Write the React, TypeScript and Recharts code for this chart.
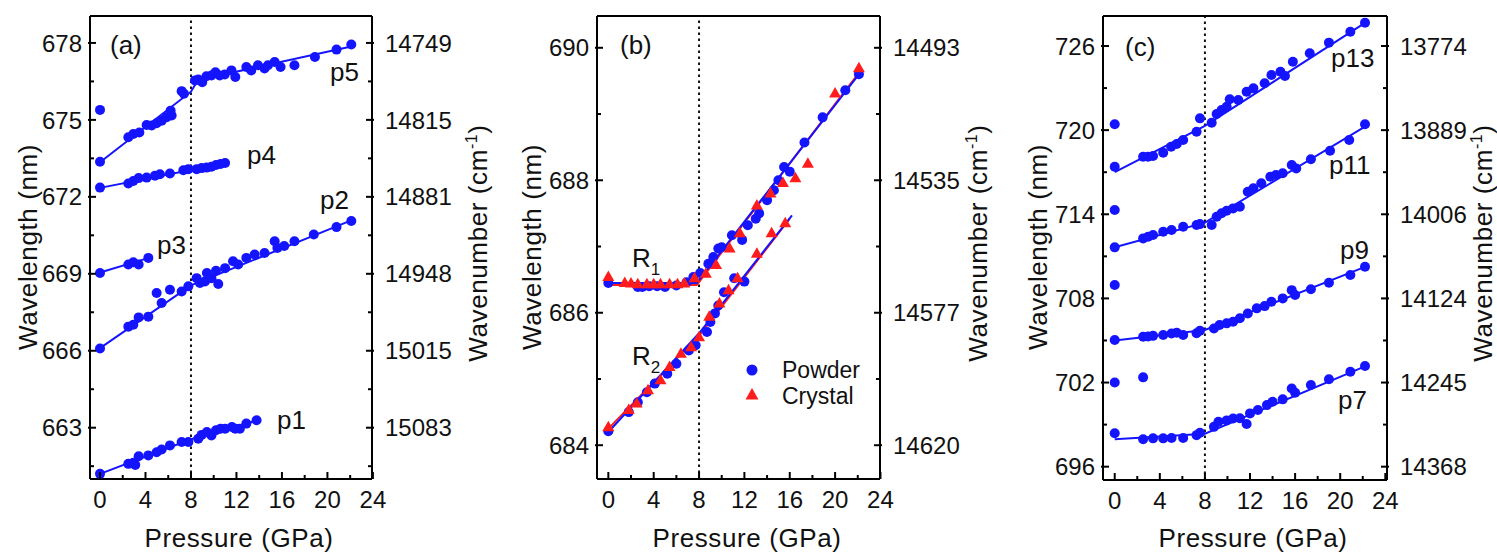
import React from "react";
import {
  ComposedChart,
  Scatter,
  Line,
  XAxis,
  YAxis,
  ReferenceLine,
  Legend,
} from "recharts";

type Pt = [number, number];

const BLUE = "#1414ff";
const RED = "#ff1c1c";
const FONT = "'Liberation Sans', Arial, Helvetica, sans-serif";

// pressure axis, shared by all three panels
const X_MAJOR = [0, 4, 8, 12, 16, 20, 24];
const X_MINOR = [2, 6, 10, 14, 18, 22];
const TRANSITION_GPA = 8;

// ---------- panel (a) ----------
const A_Y_MAJOR = [663, 666, 669, 672, 675, 678];
const A_Y_MINOR = [661.5, 664.5, 667.5, 670.5, 673.5, 676.5];
const A_WAVENUMBER = ["15083", "15015", "14948", "14881", "14815", "14749"];

const p5Points: Pt[] = [
  [0, 675.39], [0, 673.37], [2.49, 674.32], [2.93, 674.45], [3.46, 674.51],
  [4.1, 674.8], [4.54, 674.78], [4.98, 674.87], [5.42, 674.97], [5.86, 675.1],
  [6.21, 675.36], [6.3, 675.17], [7.18, 676.12], [7.38, 676.02], [8.35, 676.54],
  [8.64, 676.57], [8.99, 676.47], [9.36, 676.7], [9.8, 676.73], [10.15, 676.86],
  [10.53, 676.73], [10.97, 676.77], [11.56, 676.93], [11.9, 676.67], [12.87, 677.06],
  [13.3, 676.93], [13.89, 677.13], [14.47, 677.0], [14.77, 677.13], [15.36, 677.26],
  [15.88, 677.06], [17.1, 677.13], [18.9, 677.45], [20.8, 677.74], [22.1, 677.94],
];
const p5Fit: Pt[] = [[0, 673.35], [8, 676.1], [8.6, 676.55], [22.2, 677.87]];

const p4Points: Pt[] = [
  [0, 672.36], [2.49, 672.52], [2.93, 672.62], [3.4, 672.73], [4.1, 672.75],
  [4.83, 672.82], [5.27, 672.88], [6.15, 672.91], [7.33, 673.04], [7.77, 673.08],
  [8.5, 673.08], [8.94, 673.12], [9.38, 673.14], [9.8, 673.17], [10.2, 673.24],
  [10.6, 673.28], [11.0, 673.32],
];
const p4Fit: Pt[] = [[0, 672.35], [8, 673.05], [11, 673.33]];

const p3Points: Pt[] = [
  [0, 669.03], [2.49, 669.36], [2.93, 669.45], [3.4, 669.36], [4.25, 669.62],
];
const p3Fit: Pt[] = [[0, 669.05], [4.3, 669.62]];

const p2Points: Pt[] = [
  [0, 666.09], [2.49, 666.94], [2.93, 667.01], [3.4, 667.3], [4.25, 667.33],
  [4.98, 668.25], [5.42, 667.86], [6.15, 668.38], [7.18, 668.31], [7.77, 668.51],
  [8.5, 668.83], [8.79, 668.64], [9.23, 668.7], [9.4, 669.03], [9.8, 668.83],
  [10.2, 669.12], [10.4, 668.6], [11.0, 669.22], [11.7, 669.49], [12.15, 669.36],
  [12.87, 669.62], [13.6, 669.75], [14.47, 669.81], [15.36, 670.27], [15.6, 670.01],
  [16.2, 670.08], [17.1, 670.27], [18.8, 670.53], [20.8, 670.82], [22.1, 671.06],
];
const p2Fit: Pt[] = [[0, 666.1], [8, 668.55], [22.2, 671.1]];

const p1Points: Pt[] = [
  [0, 661.2], [2.49, 661.59], [2.93, 661.63], [3.1, 661.55], [3.4, 661.89],
  [4.25, 661.92], [4.98, 662.04], [5.42, 662.15], [6.15, 662.31], [7.18, 662.44],
  [7.77, 662.44], [8.64, 662.57], [8.94, 662.72], [9.4, 662.83], [9.8, 662.7],
  [10.2, 662.9], [10.6, 662.96], [11.0, 662.96], [11.6, 663.03], [11.9, 662.96],
  [12.3, 662.96], [12.87, 663.16], [13.77, 663.29],
];
const p1Fit: Pt[] = [[0, 661.2], [8, 662.55], [14, 663.3]];

// ---------- panel (b) ----------
const B_Y_MAJOR = [684, 686, 688, 690];
const B_Y_MINOR = [685, 687, 689];
const B_WAVENUMBER = ["14620", "14577", "14535", "14493"];
const B_LEGEND = ["Powder", "Crystal"];

const r1Powder: Pt[] = [
  [0, 686.45], [2.6, 686.39], [3.0, 686.39], [3.6, 686.4], [4.3, 686.4],
  [5.0, 686.39], [6.0, 686.41], [6.9, 686.46], [7.5, 686.54], [8.1, 686.6],
  [8.82, 686.74], [9.26, 686.84], [9.7, 686.97], [10.0, 686.99], [10.9, 687.17],
  [11.8, 687.1], [12.3, 687.32], [13.0, 687.42], [13.3, 687.5], [14.0, 687.7],
  [14.6, 687.85], [15.0, 688.0], [15.5, 688.2], [16.0, 688.13], [17.3, 688.57],
  [18.9, 688.95], [20.9, 689.36], [22.1, 689.6],
];
const r1Crystal: Pt[] = [
  [0, 686.54], [1.45, 686.45], [2.0, 686.44], [2.6, 686.43], [3.4, 686.43],
  [4.0, 686.43], [4.6, 686.43], [5.4, 686.43], [6.1, 686.43], [6.7, 686.44],
  [7.6, 686.52], [8.6, 686.59], [9.5, 686.72], [10.7, 686.97], [11.6, 687.2],
  [13.1, 687.62], [14.3, 687.8], [15.4, 687.96], [16.5, 688.03], [17.6, 688.25],
  [20.0, 689.31], [22.1, 689.69],
];
const r2Powder: Pt[] = [
  [0, 684.21], [1.8, 684.5], [2.6, 684.65], [3.4, 684.8], [4.1, 684.93],
  [5.2, 685.08], [6.0, 685.23], [7.1, 685.43], [7.7, 685.51], [8.7, 685.71],
  [9.0, 685.86], [9.4, 685.99], [9.7, 686.11], [10.2, 686.31], [11.1, 686.52],
  [12.0, 686.47],
];
const r2Crystal: Pt[] = [
  [0, 684.27], [1.8, 684.53], [2.5, 684.63], [3.5, 684.83], [4.6, 684.98],
  [5.4, 685.18], [6.4, 685.38], [7.3, 685.48], [8.0, 685.63], [8.9, 685.94],
  [9.8, 686.14], [10.6, 686.34], [11.4, 686.52], [13.1, 686.89], [14.4, 687.2],
  [15.6, 687.35],
];
const r1PowderFit: Pt[] = [[0, 686.45], [7.8, 686.45], [22.2, 689.62]];
const r1CrystalFit: Pt[] = [[0, 686.42], [7.8, 686.42], [22.1, 689.62]];
const r2PowderFit: Pt[] = [[0, 684.2], [8, 685.69], [16.2, 687.47]];
const r2CrystalFit: Pt[] = [[0, 684.25], [8, 685.65], [16, 687.42]];

// ---------- panel (c) ----------
const C_Y_MAJOR = [696, 702, 708, 714, 720, 726];
const C_Y_MINOR = [699, 705, 711, 717, 723];
const C_WAVENUMBER = ["14368", "14245", "14124", "14006", "13889", "13774"];

const p13Points: Pt[] = [
  [0, 720.42], [0, 717.39], [2.52, 718.1], [2.96, 718.1], [3.4, 718.15],
  [4.3, 718.39], [5.0, 718.82], [5.5, 719.01], [6.07, 719.3], [7.26, 719.89],
  [7.56, 720.84], [8.6, 720.53], [9.04, 721.15], [9.48, 721.44], [9.93, 721.67],
  [10.2, 722.2], [10.96, 722.15], [11.7, 722.74], [12.3, 722.98], [13.3, 723.34],
  [13.9, 723.93], [14.7, 724.17], [15.1, 723.86], [15.8, 724.88], [17.3, 725.48],
  [19.0, 726.24], [20.9, 727.02], [22.2, 727.66],
];
const p13Fit: Pt[] = [[0, 717.0], [8, 720.3], [22.2, 727.65]];

const p11Points: Pt[] = [
  [0, 714.3], [0, 711.64], [2.52, 712.28], [2.96, 712.4], [3.4, 712.52],
  [4.3, 712.76], [5.04, 712.88], [6.07, 713.11], [7.26, 713.23], [7.56, 713.3],
  [8.6, 713.23], [9.04, 713.82], [9.48, 714.07], [9.93, 714.25], [10.5, 714.42],
  [11.1, 714.54], [11.8, 715.61], [12.3, 715.85], [13.0, 716.21], [13.8, 716.68],
  [14.3, 716.8], [14.9, 716.92], [15.7, 717.51], [16.1, 717.27], [17.4, 717.92],
  [19.1, 718.53], [20.8, 719.3], [22.2, 720.42],
];
const p11Fit: Pt[] = [[0, 711.65], [8, 713.4], [22.2, 720.25]];

const p9Points: Pt[] = [
  [0, 708.95], [0, 705.03], [2.52, 705.27], [2.96, 705.29], [3.4, 705.33],
  [4.3, 705.39], [5.04, 705.5], [5.5, 705.55], [6.07, 705.39], [7.26, 705.52],
  [7.56, 705.69], [8.8, 705.86], [9.3, 706.1], [9.93, 706.22], [10.5, 706.34],
  [11.1, 706.58], [11.8, 706.93], [12.6, 707.29], [13.3, 707.45], [13.9, 707.76],
  [14.9, 708.0], [15.7, 708.59], [16.0, 708.24], [17.4, 708.65], [19.0, 709.12],
  [20.9, 709.67], [22.2, 710.26],
];
const p9Fit: Pt[] = [[0, 705.0], [8, 705.75], [22.2, 710.25]];

const p7Points: Pt[] = [
  [0, 702.0], [2.52, 702.37], [0, 698.38], [2.52, 697.95], [3.4, 698.02],
  [4.3, 698.02], [5.04, 698.05], [6.07, 698.05], [7.26, 698.25], [7.56, 698.42],
  [8.8, 698.84], [9.2, 699.2], [9.93, 699.3], [10.5, 699.44], [11.1, 699.46],
  [11.7, 699.05], [12.0, 699.8], [12.7, 700.04], [13.5, 700.39], [14.0, 700.63],
  [14.9, 700.8], [15.7, 701.58], [16.0, 701.27], [17.4, 701.82], [19.0, 702.23],
  [20.9, 702.77], [22.2, 703.18],
];
const p7Fit: Pt[] = [[0, 697.95], [8, 698.35], [22.2, 703.15]];

// ---------- helpers ----------
const toXY = (pts: Pt[]) => pts.map(([x, y]) => ({ x, y }));
const near = (a: number, b: number) => Math.abs(a - b) < 1e-6;

const circleShape = (color: string) => (p: any) =>
  <circle cx={p.cx} cy={p.cy} r={5} fill={color} />;
const triangleShape = (color: string) => (p: any) =>
  (
    <polygon
      points={`${p.cx},${p.cy - 6.5} ${p.cx - 6},${p.cy + 4} ${p.cx + 6},${p.cy + 4}`}
      fill={color}
    />
  );

function makeTick(
  side: "left" | "right" | "bottom" | "top",
  majors: number[],
  labels?: string[]
) {
  return (props: any) => {
    const { x, y, payload } = props;
    const v = payload.value as number;
    const idx = majors.findIndex((m) => near(m, v));
    const major = idx >= 0;
    const text = labels ? labels[idx] : String(v);
    const common = { stroke: "#000", strokeWidth: 2 };
    const tStyle = { fontFamily: FONT, fontSize: 24, fill: "#111" };
    if (side === "left" || side === "right") {
      const dir = side === "left" ? 1 : -1; // inward
      const inner = major ? 6 : 4;
      const outer = major ? 2 : 0;
      return (
        <g>
          <line x1={x - dir * outer} x2={x + dir * inner} y1={y} y2={y} {...common} />
          {major && (
            <text
              x={side === "left" ? x - 8 : x + 13}
              y={y}
              dy="0.36em"
              textAnchor={side === "left" ? "end" : "start"}
              style={tStyle}
            >
              {text}
            </text>
          )}
        </g>
      );
    }
    const dir = side === "bottom" ? -1 : 1; // inward
    const len = major ? 7 : 4;
    return (
      <g>
        <line x1={x} x2={x} y1={y} y2={y + dir * len} {...common} />
        {major && side === "bottom" && (
          <text x={x} y={y + 29} textAnchor="middle" style={tStyle}>
            {text}
          </text>
        )}
      </g>
    );
  };
}

interface Series {
  pts: Pt[];
  color: string;
  shape: "circle" | "triangle";
}
interface Fit {
  pts: Pt[];
  color: string;
}
interface PanelProps {
  left: number;
  width: number;
  plotL: number;
  plotR: number;
  plotT: number;
  plotB: number;
  xDomain: [number, number];
  yDomain: [number, number];
  yMajor: number[];
  yMinor: number[];
  wavenumbers: string[];
  fits: Fit[];
  series: Series[];
  legend?: boolean;
}

const H = 555;
const AXW = 60;
const AXH = 40;

function Panel(p: PanelProps) {
  const yTicks = [...p.yMajor, ...p.yMinor].sort((a, b) => a - b);
  const xTicks = [...X_MAJOR, ...X_MINOR].sort((a, b) => a - b);
  const margin = {
    left: p.plotL - AXW,
    right: p.width - p.plotR - AXW,
    top: p.plotT - 1,
    bottom: H - p.plotB - AXH,
  };
  const axisLine = { stroke: "#000", strokeWidth: 2 };
  return (
    <div style={{ position: "absolute", left: p.left, top: 0 }}>
      <ComposedChart width={p.width} height={H} margin={margin}>
        <XAxis
          xAxisId="b"
          dataKey="x"
          type="number"
          domain={p.xDomain}
          allowDataOverflow
          ticks={xTicks}
          interval={0}
          height={AXH}
          tickSize={0}
          tickMargin={0}
          axisLine={axisLine}
          tick={makeTick("bottom", X_MAJOR)}
        />
        <XAxis
          xAxisId="t"
          orientation="top"
          type="number"
          domain={p.xDomain}
          allowDataOverflow
          ticks={xTicks}
          interval={0}
          height={1}
          tickSize={0}
          tickMargin={0}
          axisLine={axisLine}
          tick={makeTick("top", X_MAJOR)}
        />
        <YAxis
          yAxisId="l"
          type="number"
          domain={p.yDomain}
          allowDataOverflow
          ticks={yTicks}
          interval={0}
          width={AXW}
          tickSize={0}
          tickMargin={0}
          axisLine={axisLine}
          tick={makeTick("left", p.yMajor)}
        />
        <YAxis
          yAxisId="r"
          orientation="right"
          type="number"
          domain={p.yDomain}
          allowDataOverflow
          ticks={yTicks}
          interval={0}
          width={AXW}
          tickSize={0}
          tickMargin={0}
          axisLine={axisLine}
          tick={makeTick("right", p.yMajor, p.wavenumbers)}
        />
        <ReferenceLine
          x={TRANSITION_GPA}
          xAxisId="b"
          yAxisId="l"
          stroke="#111"
          strokeWidth={2}
          strokeDasharray="2.5 3.5"
        />
        {p.fits.map((f, i) => (
          <Line
            key={`f${i}`}
            xAxisId="b"
            yAxisId="l"
            data={toXY(f.pts)}
            dataKey="y"
            type="linear"
            stroke={f.color}
            strokeWidth={2}
            dot={false}
            activeDot={false}
            isAnimationActive={false}
          />
        ))}
        {p.series.map((s, i) => (
          <Scatter
            key={`s${i}`}
            xAxisId="b"
            yAxisId="l"
            data={toXY(s.pts)}
            dataKey="y"
            shape={s.shape === "circle" ? circleShape(s.color) : triangleShape(s.color)}
            isAnimationActive={false}
          />
        ))}
        {p.legend && (
          <Legend
            layout="vertical"
            align="center"
            verticalAlign="middle"
            wrapperStyle={{ left: 240, top: 355, width: 160, height: 56 }}
            content={() => (
              <svg width={160} height={56}>
                <circle cx={12} cy={15} r={5.5} fill={BLUE} />
                <polygon points="12,33 5.5,44.5 18.5,44.5" fill={RED} />
                {B_LEGEND.map((name, i) => (
                  <text
                    key={name}
                    x={42}
                    y={15 + i * 26}
                    dy="0.36em"
                    style={{ fontFamily: FONT, fontSize: 23, fill: "#111" }}
                  >
                    {name}
                  </text>
                ))}
              </svg>
            )}
          />
        )}
      </ComposedChart>
    </div>
  );
}

const labelStyle = { fontFamily: FONT, fontSize: 26, fill: "#111" };
const titleStyle = { fontFamily: FONT, fontSize: 26, fill: "#111", letterSpacing: 0.6 };

function Overlay() {
  const notes: [string, number, number][] = [
    ["(a)", 110, 45], ["p5", 330, 72], ["p4", 247, 155], ["p2", 320, 200],
    ["p3", 157, 245], ["p1", 277, 420],
    ["(b)", 620, 45],
    ["(c)", 1125, 47], ["p13", 1331, 58], ["p11", 1329, 165], ["p9", 1340, 250],
    ["p7", 1338, 400],
  ];
  const leftTitles = [28, 532, 1038];
  const rightTitles = [478, 978, 1483];
  const bottomTitles = [239, 747, 1253];
  return (
    <svg
      width={1497}
      height={555}
      style={{ position: "absolute", left: 0, top: 0, pointerEvents: "none" }}
    >
      {notes.map(([t, x, y]) => (
        <text key={t} x={x} y={y} dy="0.36em" style={labelStyle}>
          {t}
        </text>
      ))}
      <text x={632} y={258} dy="0.36em" style={labelStyle}>
        R<tspan dy={8} fontSize={17}>1</tspan>
      </text>
      <text x={632} y={356} dy="0.36em" style={labelStyle}>
        R<tspan dy={8} fontSize={17}>2</tspan>
      </text>
      {leftTitles.map((x) => (
        <text
          key={`l${x}`}
          transform={`translate(${x},247) rotate(-90)`}
          textAnchor="middle"
          dy="0.36em"
          style={titleStyle}
        >
          Wavelength (nm)
        </text>
      ))}
      {rightTitles.map((x) => (
        <text
          key={`r${x}`}
          transform={`translate(${x},243) rotate(-90)`}
          textAnchor="middle"
          dy="0.36em"
          style={titleStyle}
        >
          Wavenumber (cm<tspan dy={-10} fontSize={16}>-1</tspan>
          <tspan dy={10}>)</tspan>
        </text>
      ))}
      {bottomTitles.map((x) => (
        <text key={`b${x}`} x={x} y={538} dy="0.36em" textAnchor="middle" style={titleStyle}>
          Pressure (GPa)
        </text>
      ))}
    </svg>
  );
}

export default function App() {
  return (
    <div
      style={{
        position: "absolute",
        left: 0,
        top: 0,
        width: 1497,
        height: 555,
        background: "#fff",
        overflow: "hidden",
      }}
    >
      <Panel
        left={0}
        width={500}
        plotL={90}
        plotR={372}
        plotT={16}
        plotB={479}
        xDomain={[-0.88, 23.92]}
        yDomain={[661.0, 679.05]}
        yMajor={A_Y_MAJOR}
        yMinor={A_Y_MINOR}
        wavenumbers={A_WAVENUMBER}
        fits={[p5Fit, p4Fit, p3Fit, p2Fit, p1Fit].map((pts) => ({ pts, color: BLUE }))}
        series={[p5Points, p4Points, p3Points, p2Points, p1Points].map((pts) => ({
          pts,
          color: BLUE,
          shape: "circle" as const,
        }))}
      />
      <Panel
        left={500}
        width={500}
        plotL={97}
        plotR={380}
        plotT={16}
        plotB={479}
        xDomain={[-1.0, 23.96]}
        yDomain={[683.49, 690.48]}
        yMajor={B_Y_MAJOR}
        yMinor={B_Y_MINOR}
        wavenumbers={B_WAVENUMBER}
        fits={[
          { pts: r1CrystalFit, color: RED },
          { pts: r2CrystalFit, color: RED },
          { pts: r1PowderFit, color: BLUE },
          { pts: r2PowderFit, color: BLUE },
        ]}
        series={[
          { pts: r1Powder, color: BLUE, shape: "circle" },
          { pts: r2Powder, color: BLUE, shape: "circle" },
          { pts: r1Crystal, color: RED, shape: "triangle" },
          { pts: r2Crystal, color: RED, shape: "triangle" },
        ]}
        legend
      />
      <Panel
        left={1000}
        width={497}
        plotL={103}
        plotR={387}
        plotT={16}
        plotB={480}
        xDomain={[-1.04, 24.15]}
        yDomain={[695.05, 728.14]}
        yMajor={C_Y_MAJOR}
        yMinor={C_Y_MINOR}
        wavenumbers={C_WAVENUMBER}
        fits={[p13Fit, p11Fit, p9Fit, p7Fit].map((pts) => ({ pts, color: BLUE }))}
        series={[p13Points, p11Points, p9Points, p7Points].map((pts) => ({
          pts,
          color: BLUE,
          shape: "circle" as const,
        }))}
      />
      <Overlay />
    </div>
  );
}
